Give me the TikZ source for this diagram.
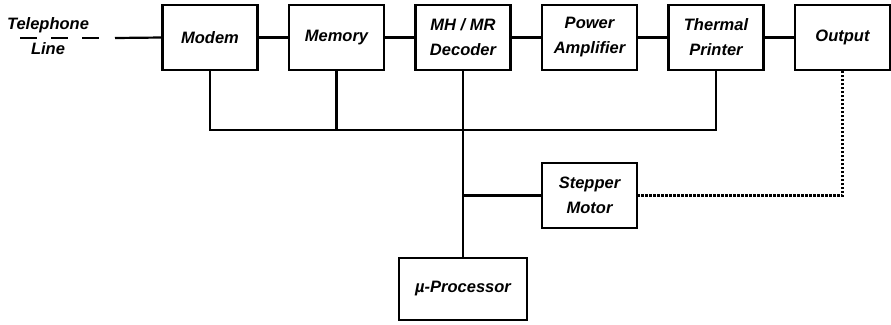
\documentclass[tikz,border=0pt]{standalone}
\usepackage{fontspec}
\setsansfont{Liberation Sans}
\usetikzlibrary{positioning}

\begin{document}
\begin{tikzpicture}[
  x=1pt,y=-1pt,
  node distance=93pt and 31.5pt,
  lbl/.style={font=\sffamily\bfseries\itshape\fontsize{16.5}{25}\selectfont},
  box/.style={lbl,draw,line width=2.6pt,align=center,minimum width=95pt,
              minimum height=65pt,inner sep=2pt,outer sep=0pt},
  wire/.style={line width=2.2pt},
  dashwire/.style={line width=2.2pt,dash pattern=on 17pt off 14pt},
  dotwire/.style={line width=2.2pt,dash pattern=on 2.5pt off 1.5pt}
]
\useasboundingbox (0,0) rectangle (891,324);
\node[box] (modem) at (210,37.5) {Modem};
\node[box,right=of modem] (memory) {Memory};
\node[box,right=of memory] (decoder) {MH / MR\\Decoder};
\node[box,right=of decoder] (amp) {Power\\Amplifier};
\node[box,right=of amp] (printer) {Thermal\\Printer};
\node[box,right=of printer] (output) {Output};
\node[box,below=of amp] (stepper) {Stepper\\Motor};
\node[box,minimum width=128pt,minimum height=62pt,below=188pt of decoder] (cpu) {µ-Processor};
\node[lbl,align=center] (line) at (48,36) {Telephone\\Line};
\coordinate (telA) at (20,38);
\coordinate (telB) at (102,38);
\coordinate (telC) at (115,38);
\coordinate (buslevel) at (0,130);
% top row
\foreach \a/\b in {modem/memory,memory/decoder,decoder/amp,amp/printer,printer/output}
  \draw[wire] (\a) -- (\b);
\draw[dashwire] (telA) -- (telB);
\draw[wire] (telC) -- (modem.west);
% common bus
\draw[wire] (modem.south) |- (printer.south |- buslevel) -- (printer.south);
\draw[wire] (memory.south) -- (memory.south |- buslevel);
\draw[wire] (decoder.south) -- (cpu.north);
\draw[wire] (decoder.south |- stepper.west) -- (stepper.west);
\draw[dotwire] (stepper.east) -| (output.south);
\end{tikzpicture}
\end{document}
